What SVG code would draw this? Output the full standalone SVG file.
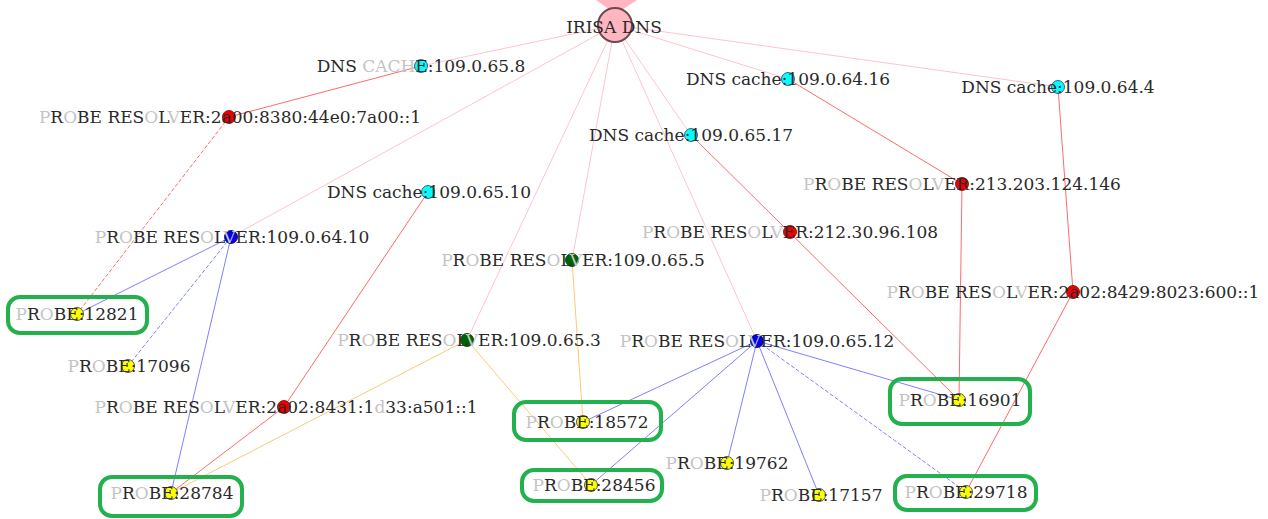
<svg xmlns="http://www.w3.org/2000/svg" width="1268" height="519" viewBox="0 0 1268 519">
<style>
text{font-family:"DejaVu Serif","Liberation Serif",serif;font-size:17px;fill:#2a2a2a;text-anchor:middle}
.g{fill:#c4c4c4}
.pk{stroke:#ffc4cf;stroke-width:1;fill:none}
.rd{stroke:#ff5a5a;stroke-width:0.9;fill:none}
.bl{stroke:#7070ff;stroke-width:0.9;fill:none}
.or{stroke:#ffc878;stroke-width:1;fill:none}
.ds{stroke-dasharray:4 2}
.box{fill:none;stroke:#22b14c;stroke-width:4}
.cy{fill:#00ffff;stroke:#336;stroke-width:0.8}
.rn{fill:#ee0000;stroke:#700;stroke-width:0.8}
.bn{fill:#0000ee;stroke:#003;stroke-width:0.8}
.gn{fill:#006400;stroke:#030;stroke-width:0.8}
.yn{fill:#ffff00;stroke:#555;stroke-width:1}
</style>
<rect width="1268" height="519" fill="#fff"/>
<g id="connectors">
<line class="pk" x1="615" y1="25" x2="421" y2="66"/>
<line class="pk" x1="615" y1="25" x2="231" y2="237"/>
<line class="pk" x1="615" y1="25" x2="467" y2="340"/>
<line class="pk" x1="615" y1="25" x2="572" y2="260"/>
<line class="pk" x1="615" y1="25" x2="757" y2="341"/>
<line class="pk" x1="615" y1="25" x2="691" y2="135"/>
<line class="pk" x1="615" y1="25" x2="788" y2="79"/>
<line class="pk" x1="615" y1="25" x2="1058" y2="87"/>
<line class="rd" x1="421" y1="66" x2="229" y2="117"/>
<line class="rd ds" x1="229" y1="117" x2="77" y2="314"/>
<line class="rd" x1="428" y1="192" x2="284" y2="407"/>
<line class="rd" x1="284" y1="407" x2="171" y2="493"/>
<line class="rd" x1="788" y1="79" x2="962" y2="184"/>
<line class="rd" x1="962" y1="184" x2="959" y2="400"/>
<line class="rd" x1="691" y1="135" x2="959" y2="400"/>
<line class="rd" x1="1058" y1="87" x2="1073" y2="292"/>
<line class="rd" x1="1073" y1="292" x2="966" y2="492"/>
<line class="bl" x1="231" y1="237" x2="77" y2="314"/>
<line class="bl ds" x1="231" y1="237" x2="128" y2="366"/>
<line class="bl" x1="231" y1="237" x2="171" y2="493"/>
<line class="or" x1="572" y1="260" x2="583" y2="422"/>
<line class="or" x1="467" y1="340" x2="171" y2="493"/>
<line class="or" x1="467" y1="340" x2="591" y2="485"/>
<line class="bl" x1="757" y1="341" x2="583" y2="422"/>
<line class="bl" x1="757" y1="341" x2="591" y2="485"/>
<line class="bl" x1="757" y1="341" x2="727" y2="463"/>
<line class="bl" x1="757" y1="341" x2="819" y2="495"/>
<line class="bl" x1="757" y1="341" x2="959" y2="400"/>
<line class="bl ds" x1="757" y1="341" x2="966" y2="492"/>
</g>
<g id="boxes">
<rect class="box" x="8" y="297" width="139" height="36" rx="12"/>
<rect class="box" x="514" y="402" width="147" height="38" rx="12"/>
<rect class="box" x="890" y="379" width="140" height="45" rx="12"/>
<rect class="box" x="100" y="477" width="142" height="39" rx="12"/>
<rect class="box" x="522" y="470" width="140" height="31" rx="12"/>
<rect class="box" x="895" y="476" width="141" height="34" rx="12"/>
</g>
<g id="irisa-dns">
<polygon points="596,0 637,0 616,14" fill="#ffb6c1"/>
<circle cx="615" cy="25" r="17" fill="#ffb6c1" stroke="#6b4b50" stroke-width="2"/>
<text x="614" y="33">IRISA DNS</text>
</g>
<g id="cache-65-8"><circle class="cy" cx="421" cy="66" r="6.5"/><text x="421" y="72">DNS <tspan class="g">CACH</tspan>E:109.0.65.8</text></g>
<g id="res-2a00"><circle class="rn" cx="229" cy="117" r="6.5"/><text x="230" y="123"><tspan class="g">P</tspan>R<tspan class="g">O</tspan>BE RES<tspan class="g">O</tspan>L<tspan class="g">V</tspan>ER:2a00:8380:44e0:7a00::1</text></g>
<g id="cache-64-16"><circle class="cy" cx="788" cy="79" r="6.5"/><text x="788" y="85">DNS cache:109.0.64.16</text></g>
<g id="cache-64-4"><circle class="cy" cx="1058" cy="87" r="6.5"/><text x="1058" y="93">DNS cache:109.0.64.4</text></g>
<g id="cache-65-17"><circle class="cy" cx="691" cy="135" r="6.5"/><text x="691" y="141">DNS cache:109.0.65.17</text></g>
<g id="res-213"><circle class="rn" cx="962" cy="184" r="6.5"/><text x="962" y="190"><tspan class="g">P</tspan>R<tspan class="g">O</tspan>BE RES<tspan class="g">O</tspan>L<tspan class="g">V</tspan>ER:213.203.124.146</text></g>
<g id="cache-65-10"><circle class="cy" cx="428" cy="192" r="6.5"/><text x="429" y="198">DNS cache:109.0.65.10</text></g>
<g id="res-212"><circle class="rn" cx="790" cy="232" r="6.5"/><text x="790" y="238"><tspan class="g">P</tspan>R<tspan class="g">O</tspan>BE RES<tspan class="g">O</tspan>L<tspan class="g">V</tspan>ER:212.30.96.108</text></g>
<g id="res-64-10"><circle class="bn" cx="231" cy="237" r="6.5"/><text x="232" y="243"><tspan class="g">P</tspan>R<tspan class="g">O</tspan>BE RES<tspan class="g">O</tspan>L<tspan class="g">V</tspan>ER:109.0.64.10</text></g>
<g id="res-65-5"><circle class="gn" cx="572" cy="260" r="6.5"/><text x="573" y="266"><tspan class="g">P</tspan>R<tspan class="g">O</tspan>BE RES<tspan class="g">O</tspan>L<tspan class="g">V</tspan>ER:109.0.65.5</text></g>
<g id="res-2a02-8429"><circle class="rn" cx="1073" cy="292" r="6.5"/><text x="1073" y="298"><tspan class="g">P</tspan>R<tspan class="g">O</tspan>BE RES<tspan class="g">O</tspan>L<tspan class="g">V</tspan>ER:2a02:8429:8023:600::1</text></g>
<g id="res-65-3"><circle class="gn" cx="467" cy="340" r="6.5"/><text x="469" y="346"><tspan class="g">P</tspan>R<tspan class="g">O</tspan>BE RES<tspan class="g">O</tspan>L<tspan class="g">V</tspan>ER:109.0.65.3</text></g>
<g id="res-65-12"><circle class="bn" cx="757" cy="341" r="6.5"/><text x="757" y="347"><tspan class="g">P</tspan>R<tspan class="g">O</tspan>BE RES<tspan class="g">O</tspan>L<tspan class="g">V</tspan>ER:109.0.65.12</text></g>
<g id="res-2a02-8431"><circle class="rn" cx="284" cy="407" r="6.5"/><text x="286" y="413"><tspan class="g">P</tspan>R<tspan class="g">O</tspan>BE RES<tspan class="g">O</tspan>L<tspan class="g">V</tspan>ER:2a02:8431:1<tspan class="g">d</tspan>33:a501::1</text></g>
<g id="probe-12821"><circle class="yn" cx="77" cy="314" r="6.5"/><text x="77" y="320"><tspan class="g">P</tspan>R<tspan class="g">O</tspan>BE:12821</text></g>
<g id="probe-17096"><circle class="yn" cx="128" cy="366" r="6.5"/><text x="129" y="372"><tspan class="g">P</tspan>R<tspan class="g">O</tspan>BE:17096</text></g>
<g id="probe-18572"><circle class="yn" cx="583" cy="422" r="6.5"/><text x="587" y="428"><tspan class="g">P</tspan>R<tspan class="g">O</tspan>BE:18572</text></g>
<g id="probe-16901"><circle class="yn" cx="959" cy="400" r="6.5"/><text x="960" y="406"><tspan class="g">P</tspan>R<tspan class="g">O</tspan>BE:16901</text></g>
<g id="probe-19762"><circle class="yn" cx="727" cy="463" r="6.5"/><text x="727" y="469"><tspan class="g">P</tspan>R<tspan class="g">O</tspan>BE:19762</text></g>
<g id="probe-28784"><circle class="yn" cx="171" cy="493" r="6.5"/><text x="172" y="499"><tspan class="g">P</tspan>R<tspan class="g">O</tspan>BE:28784</text></g>
<g id="probe-28456"><circle class="yn" cx="591" cy="485" r="6.5"/><text x="594" y="491"><tspan class="g">P</tspan>R<tspan class="g">O</tspan>BE:28456</text></g>
<g id="probe-17157"><circle class="yn" cx="819" cy="495" r="6.5"/><text x="821" y="501"><tspan class="g">P</tspan>R<tspan class="g">O</tspan>BE:17157</text></g>
<g id="probe-29718"><circle class="yn" cx="966" cy="492" r="6.5"/><text x="966" y="498"><tspan class="g">P</tspan>R<tspan class="g">O</tspan>BE:29718</text></g>
</svg>
